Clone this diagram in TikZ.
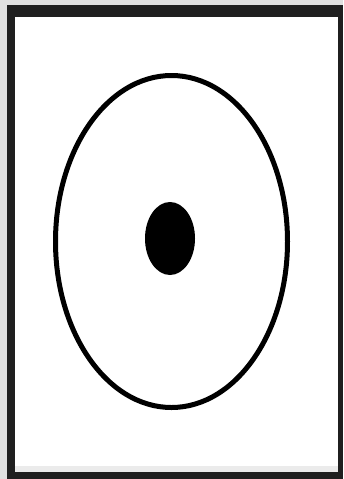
\documentclass[tikz,border=0pt]{standalone}
\begin{document}
\begin{tikzpicture}[x=1pt,y=-1pt,
  frameouter/.style={fill=black!88},
  ring/.style={draw=black, line width=5pt},
  pupil/.style={fill=black}]
\fill[black!12] (0,0) rectangle (343,479);
\useasboundingbox (0,0) rectangle (343,479);
\fill[frameouter] (7,5) rectangle (343,479);
\fill[white] (15,17) rectangle (338,472);
\fill[black!8] (15,466) rectangle (338,472);
\draw[ring] (171.5,241.5) ellipse [x radius=116, y radius=166];
\fill[pupil] (170,238.5) ellipse [x radius=25, y radius=36.5];
\end{tikzpicture}
\end{document}
